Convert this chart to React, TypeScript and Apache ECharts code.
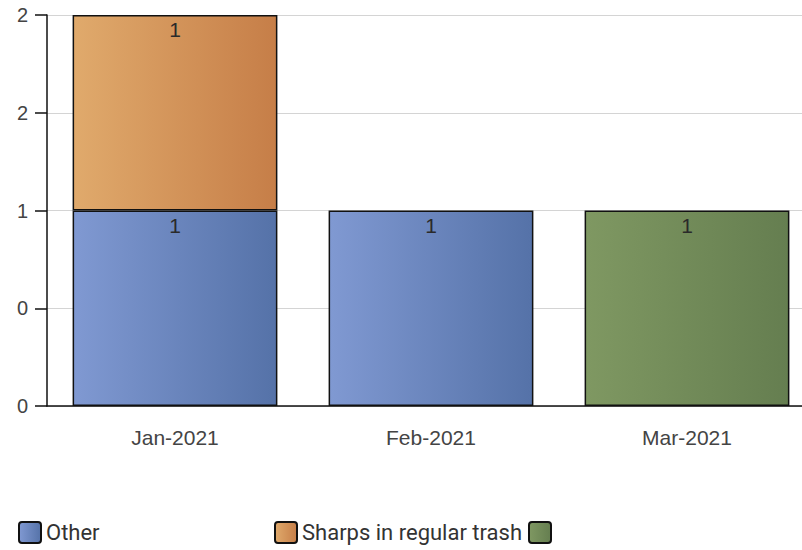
import React, { useEffect, useRef } from "react";
import * as echarts from "echarts";

const categories = ["Jan-2021", "Feb-2021", "Mar-2021"];
const seriesNames = ["Other", "Sharps in regular trash", " "];
const otherValues = [1, 1, null];
const sharpsValues = [1, null, null];
const unnamedValues = [null, null, 1];
const yTickLabels = ["0", "0", "1", "2", "2"];

const grad = (a: string, b: string) =>
  new echarts.graphic.LinearGradient(0, 0, 1, 0, [
    { offset: 0, color: a },
    { offset: 1, color: b },
  ]);

const ICON =
  "path://M3,0 H19 Q22,0 22,3 V18 Q22,21 19,21 H3 Q0,21 0,18 V3 Q0,0 3,0 Z";

export default function App() {
  const ref = useRef<HTMLDivElement>(null);
  useEffect(() => {
    const chart = echarts.init(ref.current!, null, { renderer: "svg" });
    const colors = [
      grad("#8099d2", "#5572a8"),
      grad("#e0aa6c", "#c67e48"),
      grad("#7f9862", "#657e50"),
    ];
    const labelCfg = {
      show: true,
      position: "insideTop",
      distance: 4,
      color: "#2a2a2a",
      fontSize: 21,
      fontFamily: "Liberation Sans, Arial, sans-serif",
    };
    const mk = (name: string, data: any[], color: any) => ({
      name,
      type: "bar",
      stack: "total",
      data,
      barWidth: "80%",
      itemStyle: { color, borderColor: "#111", borderWidth: 1.5 },
      label: labelCfg,
    });
    const legendBase = (name: string, left: number) => ({
      data: [name],
      left,
      top: 521,
      icon: ICON,
      itemWidth: 22,
      itemHeight: 21,
      padding: 0,
      selectedMode: false,
      itemStyle: { borderColor: "#111", borderWidth: 2 },
      textStyle: {
        color: "#333",
        fontSize: 22,
        fontFamily: "Roboto, sans-serif",
      },
    });
    chart.setOption({
      animation: false,
      grid: { left: 47, top: 15, width: 768, height: 391 },
      legend: [
        legendBase(seriesNames[0], 18),
        legendBase(seriesNames[1], 274),
        legendBase(seriesNames[2], 528),
      ],
      xAxis: {
        type: "category",
        data: categories,
        axisLine: { lineStyle: { color: "#111", width: 1.5 } },
        axisTick: {
          alignWithLabel: true,
          length: 8,
          lineStyle: { color: "#111", width: 1.5 },
        },
        axisLabel: {
          margin: 21,
          color: "#444",
          fontSize: 21,
          fontFamily: "Liberation Sans, Arial, sans-serif",
        },
      },
      yAxis: {
        type: "value",
        min: 0,
        max: 2,
        interval: 0.5,
        axisLine: { show: true, lineStyle: { color: "#111", width: 1.5 } },
        axisTick: {
          show: true,
          length: 12,
          lineStyle: { color: "#111", width: 1.5 },
        },
        splitLine: { lineStyle: { color: "#d4d4d4", width: 1 } },
        axisLabel: {
          margin: 19,
          color: "#444",
          fontSize: 20,
          fontFamily: "Liberation Sans, Arial, sans-serif",
          formatter: (v: number) => yTickLabels[Math.round(v / 0.5)] ?? "",
        },
      },
      series: [
        mk(seriesNames[0], otherValues, colors[0]),
        mk(seriesNames[1], sharpsValues, colors[1]),
        mk(seriesNames[2], unnamedValues, colors[2]),
      ],
    });
    return () => chart.dispose();
  }, []);
  return (
    <div
      style={{
        position: "absolute",
        left: 0,
        top: 0,
        width: 802,
        height: 550,
        overflow: "hidden",
      }}
    >
      <div ref={ref} style={{ width: 830, height: 550 }} />
    </div>
  );
}
